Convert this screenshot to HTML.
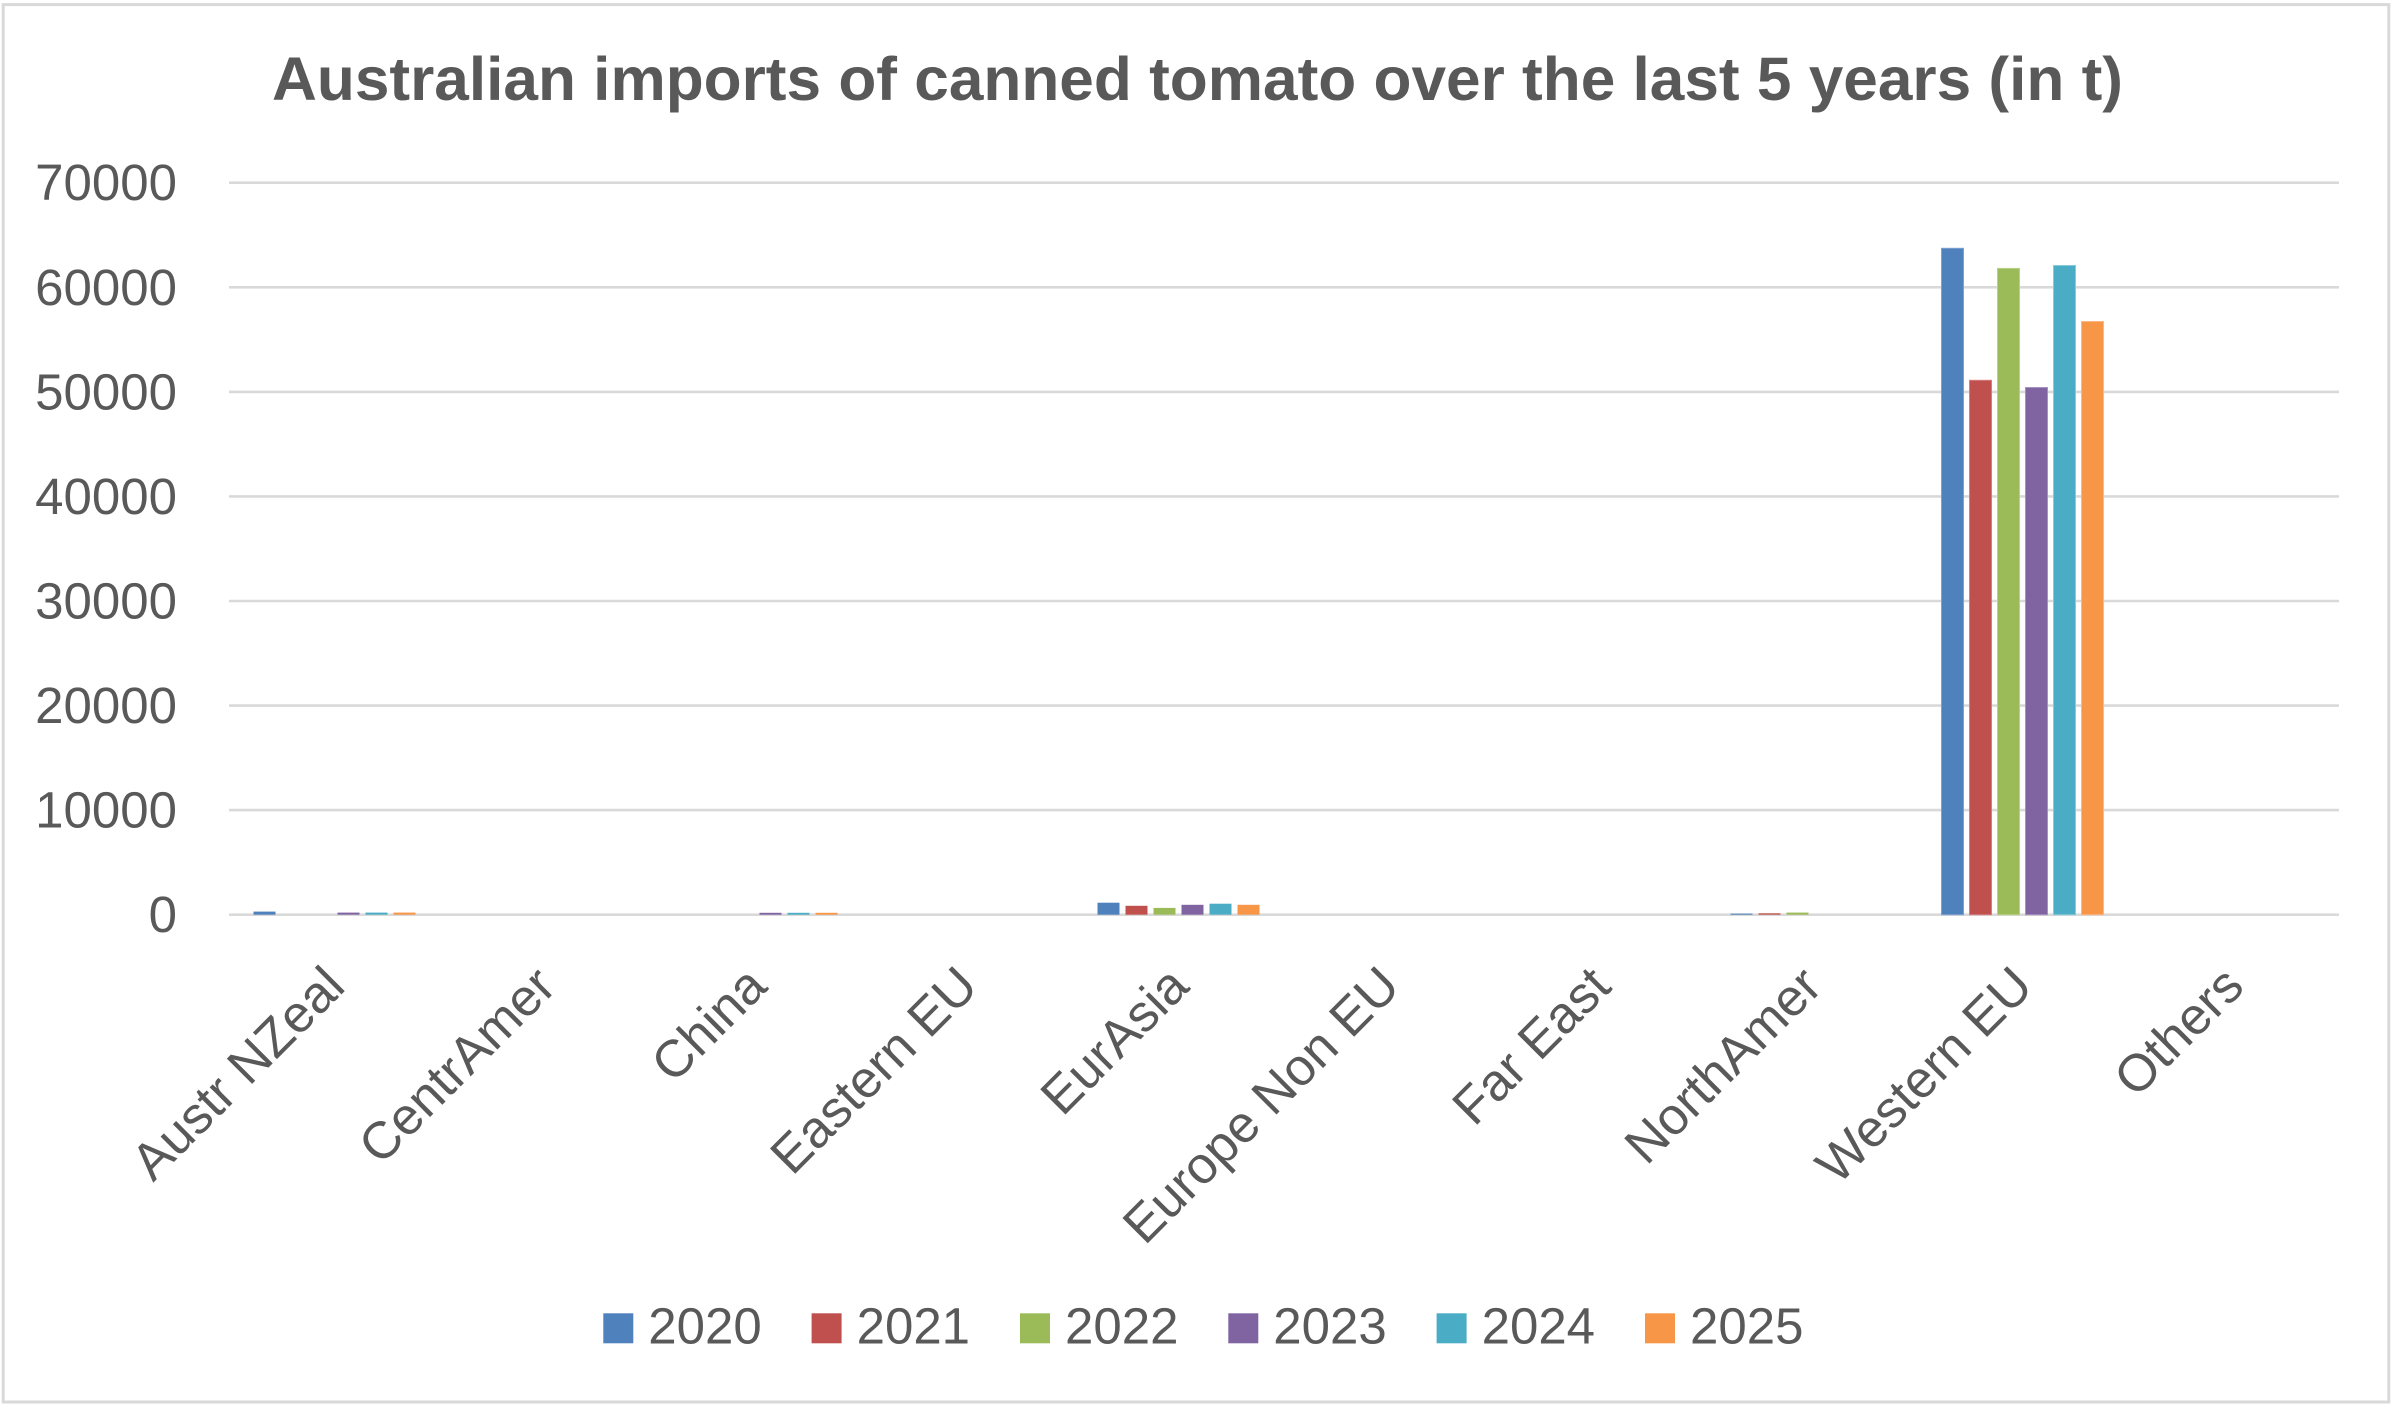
<!DOCTYPE html>
<html>
<head>
<meta charset="utf-8">
<style>
  html, body { margin: 0; padding: 0; background: #ffffff; }
  svg { display: block; }
  text { font-family: "Liberation Sans", Arial, sans-serif; fill: #595959; }
</style>
</head>
<body>
<svg width="2397" height="1411" viewBox="0 0 2397 1411" xmlns="http://www.w3.org/2000/svg">
  <rect x="0" y="0" width="2397" height="1411" fill="#ffffff"/>
  <!-- chart border -->
  <rect x="3.2" y="4.6" width="2385.6" height="1397.4" fill="none" stroke="#d9d9d9" stroke-width="3"/>

  <!-- title -->
  <text x="272" y="100" font-size="61" font-weight="bold" textLength="1851" lengthAdjust="spacingAndGlyphs">Australian imports of canned tomato over the last 5 years (in t)</text>

  <!-- gridlines -->
  <g stroke="#d9d9d9" stroke-width="2.6">
    <line x1="229" y1="182.7" x2="2339" y2="182.7"/>
    <line x1="229" y1="287.3" x2="2339" y2="287.3"/>
    <line x1="229" y1="391.9" x2="2339" y2="391.9"/>
    <line x1="229" y1="496.4" x2="2339" y2="496.4"/>
    <line x1="229" y1="601.0" x2="2339" y2="601.0"/>
    <line x1="229" y1="705.6" x2="2339" y2="705.6"/>
    <line x1="229" y1="810.1" x2="2339" y2="810.1"/>
    <line x1="229" y1="914.7" x2="2339" y2="914.7"/>
  </g>

  <!-- y axis labels -->
  <g font-size="51" text-anchor="end">
    <text x="177" y="200.2">70000</text>
    <text x="177" y="304.8">60000</text>
    <text x="177" y="409.4">50000</text>
    <text x="177" y="513.9">40000</text>
    <text x="177" y="618.5">30000</text>
    <text x="177" y="723.1">20000</text>
    <text x="177" y="827.6">10000</text>
    <text x="177" y="932.2">0</text>
  </g>

  <!-- bars -->
  <!-- Austr NZeal (cat 0, start 229) -->
  <g>
    <rect x="253.5" y="911.6" width="22" height="3.1" fill="#4F81BD"/>
    <rect x="337.5" y="912.6" width="22" height="2.1" fill="#8064A2"/>
    <rect x="365.5" y="912.6" width="22" height="2.1" fill="#4BACC6"/>
    <rect x="393.5" y="912.6" width="22" height="2.1" fill="#F79646"/>
  </g>
  <!-- China (cat 2, start 651) -->
  <g>
    <rect x="759.5" y="912.8" width="22" height="1.9" fill="#8064A2"/>
    <rect x="787.5" y="912.8" width="22" height="1.9" fill="#4BACC6"/>
    <rect x="815.5" y="912.8" width="22" height="1.9" fill="#F79646"/>
  </g>
  <!-- EurAsia (cat 4, start 1073) -->
  <g>
    <rect x="1097.5" y="902.7" width="22" height="12.0" fill="#4F81BD"/>
    <rect x="1125.5" y="905.8" width="22" height="8.9" fill="#C0504D"/>
    <rect x="1153.5" y="907.9" width="22" height="6.8" fill="#9BBB59"/>
    <rect x="1181.5" y="904.8" width="22" height="9.9" fill="#8064A2"/>
    <rect x="1209.5" y="903.7" width="22" height="11.0" fill="#4BACC6"/>
    <rect x="1237.5" y="904.8" width="22" height="9.9" fill="#F79646"/>
  </g>
  <!-- NorthAmer (cat 7, start 1706) -->
  <g>
    <rect x="1730.5" y="913.6" width="22" height="1.1" fill="#4F81BD"/>
    <rect x="1758.5" y="913.3" width="22" height="1.4" fill="#C0504D"/>
    <rect x="1786.5" y="912.6" width="22" height="2.1" fill="#9BBB59"/>
  </g>
  <!-- Western EU (cat 8, start 1917) -->
  <g stroke-width="1">
    <rect x="1941.5" y="248.3" width="22" height="666.4" fill="#4F81BD" stroke="#7fa1cf"/>
    <rect x="1969.5" y="380.3" width="22" height="534.4" fill="#C0504D" stroke="#d3807e"/>
    <rect x="1997.5" y="268.4" width="22" height="646.3" fill="#9BBB59" stroke="#b9d08a"/>
    <rect x="2025.5" y="387.5" width="22" height="527.2" fill="#8064A2" stroke="#a692c0"/>
    <rect x="2053.5" y="265.5" width="22" height="649.2" fill="#4BACC6" stroke="#86cadb"/>
    <rect x="2081.5" y="321.5" width="22" height="593.2" fill="#F79646" stroke="#fab886"/>
  </g>

  <!-- category labels -->
  <g font-size="52" text-anchor="end">
    <text transform="translate(334.5,976) rotate(-45)" x="0" y="18">Austr NZeal</text>
    <text transform="translate(545.5,976) rotate(-45)" x="0" y="18">CentrAmer</text>
    <text transform="translate(756.5,976) rotate(-45)" x="0" y="18">China</text>
    <text transform="translate(967.5,976) rotate(-45)" x="0" y="18">Eastern EU</text>
    <text transform="translate(1178.5,976) rotate(-45)" x="0" y="18">EurAsia</text>
    <text transform="translate(1389.5,976) rotate(-45)" x="0" y="18">Europe Non EU</text>
    <text transform="translate(1600.5,976) rotate(-45)" x="0" y="18">Far East</text>
    <text transform="translate(1811.5,976) rotate(-45)" x="0" y="18">NorthAmer</text>
    <text transform="translate(2022.5,976) rotate(-45)" x="0" y="18">Western EU</text>
    <text transform="translate(2233.5,976) rotate(-45)" x="0" y="18">Others</text>
  </g>

  <!-- legend -->
  <g font-size="51">
    <rect x="603.3" y="1313.3" width="30" height="30" fill="#4F81BD"/>
    <text x="648.3" y="1343.3">2020</text>
    <rect x="811.6" y="1313.3" width="30" height="30" fill="#C0504D"/>
    <text x="856.6" y="1343.3">2021</text>
    <rect x="1020.0" y="1313.3" width="30" height="30" fill="#9BBB59"/>
    <text x="1065.0" y="1343.3">2022</text>
    <rect x="1228.3" y="1313.3" width="30" height="30" fill="#8064A2"/>
    <text x="1273.3" y="1343.3">2023</text>
    <rect x="1436.6" y="1313.3" width="30" height="30" fill="#4BACC6"/>
    <text x="1481.6" y="1343.3">2024</text>
    <rect x="1645.0" y="1313.3" width="30" height="30" fill="#F79646"/>
    <text x="1690.0" y="1343.3">2025</text>
  </g>
</svg>
</body>
</html>
